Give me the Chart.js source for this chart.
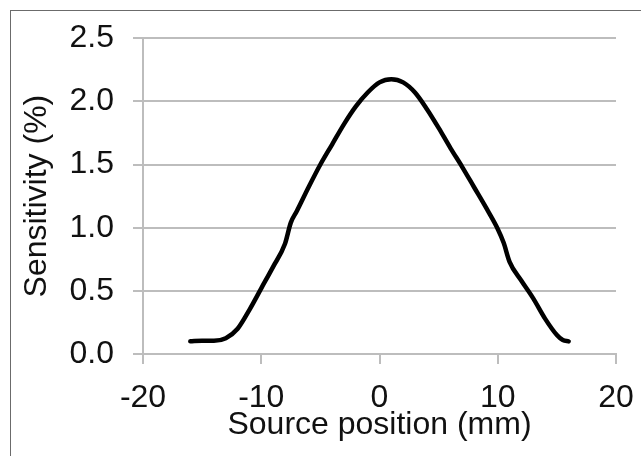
<!DOCTYPE html>
<html>
<head>
<meta charset="utf-8">
<script src="https://cdn.jsdelivr.net/npm/chart.js@4/dist/chart.umd.min.js"></script>
<style>
  html, body { margin: 0; padding: 0; background: #fff; }
  #wrap { position: relative; width: 641px; height: 456px; overflow: hidden; }
  #frame { position: absolute; left: 10px; top: 10px; width: 660px; height: 480px; border: 1.5px solid #6b6b6b; box-sizing: border-box; }
  canvas { position: absolute; left: 0; top: 0; }
</style>
</head>
<body>
<div id="wrap">
  <div id="frame"></div>
  <canvas id="grafico" width="641" height="456"></canvas>
</div>
<script>
// posição da fonte (mm) e sensibilidade (%)
const posicoes = [-16, -15, -14, -13, -12, -11, -10, -9, -8, -7.5, -7, -6, -5, -4, -3, -2, -1, 0,
                  1, 2, 3, 4, 5, 6, 7, 8, 9, 10, 10.5, 11, 12, 13, 14, 15, 15.5, 16];
const sensibilidade = [0.10, 0.105, 0.105, 0.125, 0.20, 0.35, 0.52, 0.69, 0.87, 1.04, 1.13, 1.32, 1.50, 1.66, 1.82, 1.96, 2.07, 2.15,
                       2.175, 2.15, 2.07, 1.94, 1.79, 1.63, 1.48, 1.32, 1.16, 0.99, 0.88, 0.73, 0.58, 0.44, 0.28, 0.15, 0.11, 0.10];
const ticksX = [-20, -10, 0, 10, 20];
const ticksY = [0, 0.5, 1, 1.5, 2, 2.5];

const pontos = posicoes.map((x, i) => ({ x: x, y: sensibilidade[i] }));

const fonte = { family: "'Liberation Sans', Arial, sans-serif", size: 32 };
const cinza = '#bdbdbd';

new Chart(document.getElementById('grafico'), {
    type: 'scatter',
    data: {
        datasets: [{
            data: pontos,
            showLine: true,
            borderColor: '#000',
            borderWidth: 4.5,
            pointRadius: 0,
            tension: 0.4,
            cubicInterpolationMode: 'monotone',
            borderCapStyle: 'round'
        }]
    },
    options: {
        responsive: false,
        animation: false,
        layout: { padding: { top: 34, right: 25, left: 0, bottom: 0 } },
        plugins: { legend: { display: false }, tooltip: { enabled: false } },
        scales: {
            x: {
                type: 'linear',
                min: -20, max: 20,
                afterBuildTicks: s => { s.ticks = ticksX.map(v => ({ value: v })); },
                // altura fixa e sem folga extra nas pontas (a margem vem do layout)
                afterFit: s => { s.height = 102; s.paddingLeft = 0; s.paddingRight = 0; },
                grid: { drawOnChartArea: false, drawTicks: true, tickLength: 10, color: cinza, lineWidth: 2 },
                border: { display: true, color: cinza, width: 2 },
                ticks: { color: '#111', font: fonte, padding: 15, maxRotation: 0 },
                title: { display: true, text: 'Source position (mm)', color: '#111', font: fonte, padding: { top: 0, bottom: 12 } }
            },
            y: {
                min: 0, max: 2.5,
                afterBuildTicks: s => { s.ticks = ticksY.map(v => ({ value: v })); },
                afterFit: s => { s.width = 143; },
                grid: { drawTicks: true, tickLength: 10, color: cinza, lineWidth: 2 },
                border: { display: true, color: cinza, width: 2 },
                ticks: { color: '#111', font: fonte, padding: 19, callback: v => v.toFixed(1) },
                title: { display: true, text: 'Sensitivity (%)', color: '#111', font: fonte, padding: { top: 18, bottom: 0 } }
            }
        }
    }
});
</script>
</body>
</html>
